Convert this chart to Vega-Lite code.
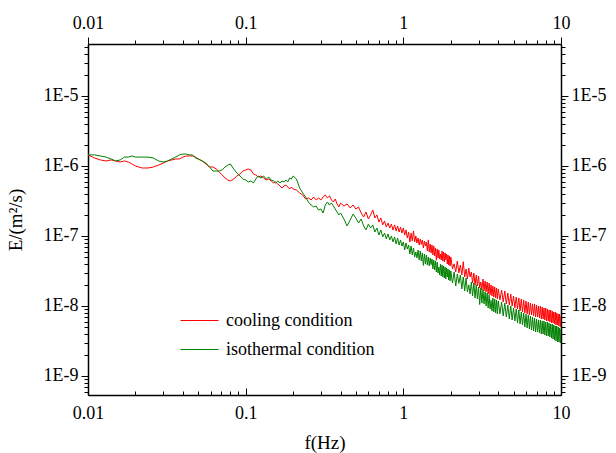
{
"$schema":"https://vega.github.io/schema/vega-lite/v6.json",
"width":473,"height":351,
"autosize":"none",
"padding":{"left":88,"top":44,"right":55,"bottom":58},
"background":"white",
"config":{"view":{"stroke":null},"font":"Liberation Serif",
 "axis":{"domainColor":"black","domainWidth":1.5,"tickColor":"black","tickWidth":1,"labelColor":"black","titleColor":"black","labelFont":"Liberation Serif","titleFont":"Liberation Serif","labelFontSize":18,"titleFontSize":19,"titleFontWeight":"normal","grid":false,"labelFlush":false,"labelOverlap":false}},
"data":{"values":[
{"f":0.010,"c":1.44e-6,"i":1.44e-6},
{"f":0.011,"c":1.30e-6,"i":1.44e-6},
{"f":0.012,"c":1.22e-6,"i":1.39e-6},
{"f":0.013,"c":1.18e-6,"i":1.34e-6},
{"f":0.014,"c":1.22e-6,"i":1.26e-6},
{"f":0.015,"c":1.18e-6,"i":1.18e-6},
{"f":0.016,"c":1.14e-6,"i":1.22e-6},
{"f":0.017,"c":1.18e-6,"i":1.34e-6},
{"f":0.018,"c":1.14e-6,"i":1.34e-6},
{"f":0.019,"c":1.07e-6,"i":1.39e-6},
{"f":0.020,"c":1.00e-6,"i":1.34e-6},
{"f":0.022,"c":9.36e-7,"i":1.34e-6},
{"f":0.024,"c":9.36e-7,"i":1.34e-6},
{"f":0.026,"c":9.68e-7,"i":1.30e-6},
{"f":0.028,"c":1.03e-6,"i":1.18e-6},
{"f":0.030,"c":1.10e-6,"i":1.14e-6},
{"f":0.032,"c":1.18e-6,"i":1.18e-6},
{"f":0.034,"c":1.22e-6,"i":1.26e-6},
{"f":0.036,"c":1.26e-6,"i":1.34e-6},
{"f":0.038,"c":1.26e-6,"i":1.44e-6},
{"f":0.040,"c":1.34e-6,"i":1.48e-6},
{"f":0.042,"c":1.39e-6,"i":1.48e-6},
{"f":0.044,"c":1.39e-6,"i":1.44e-6},
{"f":0.046,"c":1.39e-6,"i":1.44e-6},
{"f":0.048,"c":1.34e-6,"i":1.30e-6},
{"f":0.050,"c":1.26e-6,"i":1.26e-6},
{"f":0.053,"c":1.18e-6,"i":1.18e-6},
{"f":0.056,"c":1.07e-6,"i":1.10e-6},
{"f":0.059,"c":9.68e-7,"i":9.68e-7},
{"f":0.062,"c":9.68e-7,"i":8.48e-7},
{"f":0.065,"c":9.06e-7,"i":8.48e-7},
{"f":0.068,"c":8.21e-7,"i":8.48e-7},
{"f":0.071,"c":7.44e-7,"i":8.77e-7},
{"f":0.074,"c":6.74e-7,"i":9.68e-7},
{"f":0.077,"c":6.31e-7,"i":1.03e-6},
{"f":0.080,"c":6.11e-7,"i":1.07e-6},
{"f":0.084,"c":6.52e-7,"i":9.06e-7},
{"f":0.088,"c":7.20e-7,"i":7.94e-7},
{"f":0.092,"c":7.69e-7,"i":7.20e-7},
{"f":0.096,"c":8.48e-7,"i":6.52e-7},
{"f":0.100,"c":8.77e-7,"i":6.31e-7},
{"f":0.104,"c":9.06e-7,"i":5.91e-7},
{"f":0.108,"c":8.77e-7,"i":6.11e-7},
{"f":0.112,"c":7.69e-7,"i":5.72e-7},
{"f":0.116,"c":7.44e-7,"i":6.52e-7},
{"f":0.120,"c":6.96e-7,"i":7.20e-7},
{"f":0.125,"c":7.20e-7,"i":6.74e-7},
{"f":0.130,"c":6.74e-7,"i":7.20e-7},
{"f":0.135,"c":6.31e-7,"i":6.52e-7},
{"f":0.140,"c":6.52e-7,"i":6.96e-7},
{"f":0.145,"c":6.11e-7,"i":6.31e-7},
{"f":0.150,"c":5.72e-7,"i":6.11e-7},
{"f":0.155,"c":5.91e-7,"i":5.72e-7},
{"f":0.160,"c":5.53e-7,"i":6.11e-7},
{"f":0.165,"c":5.18e-7,"i":5.72e-7},
{"f":0.170,"c":4.85e-7,"i":6.11e-7},
{"f":0.175,"c":5.18e-7,"i":5.91e-7},
{"f":0.180,"c":5.35e-7,"i":6.31e-7},
{"f":0.185,"c":5.01e-7,"i":5.91e-7},
{"f":0.190,"c":4.69e-7,"i":6.74e-7},
{"f":0.195,"c":5.01e-7,"i":6.52e-7},
{"f":0.200,"c":4.69e-7,"i":7.20e-7},
{"f":0.21,"c":4.54e-7,"i":6.52e-7},
{"f":0.22,"c":4.12e-7,"i":4.85e-7},
{"f":0.23,"c":3.85e-7,"i":4.12e-7},
{"f":0.24,"c":3.38e-7,"i":3.61e-7},
{"f":0.25,"c":3.49e-7,"i":3.06e-7},
{"f":0.26,"c":3.27e-7,"i":2.77e-7},
{"f":0.27,"c":3.61e-7,"i":2.60e-7},
{"f":0.28,"c":3.27e-7,"i":2.68e-7},
{"f":0.29,"c":3.49e-7,"i":2.35e-7},
{"f":0.30,"c":3.27e-7,"i":2.43e-7},
{"f":0.31,"c":3.61e-7,"i":2.13e-7},
{"f":0.32,"c":3.85e-7,"i":2.77e-7},
{"f":0.33,"c":3.49e-7,"i":3.06e-7},
{"f":0.34,"c":3.73e-7,"i":2.77e-7},
{"f":0.35,"c":3.27e-7,"i":2.96e-7},
{"f":0.36,"c":3.06e-7,"i":2.68e-7},
{"f":0.37,"c":3.38e-7,"i":2.43e-7},
{"f":0.38,"c":2.87e-7,"i":2.20e-7},
{"f":0.39,"c":2.60e-7,"i":2.00e-7},
{"f":0.40,"c":2.96e-7,"i":2.13e-7},
{"f":0.42,"c":2.68e-7,"i":1.75e-7},
{"f":0.44,"c":2.87e-7,"i":1.39e-7},
{"f":0.46,"c":2.51e-7,"i":1.69e-7},
{"f":0.48,"c":2.77e-7,"i":2.06e-7},
{"f":0.50,"c":2.43e-7,"i":1.81e-7},
{"f":0.52,"c":2.60e-7,"i":1.53e-7},
{"f":0.54,"c":2.13e-7,"i":1.75e-7},
{"f":0.56,"c":1.87e-7,"i":1.39e-7},
{"f":0.58,"c":2.20e-7,"i":1.22e-7},
{"f":0.60,"c":1.75e-7,"i":1.48e-7},
{"f":0.62,"c":2.00e-7,"i":1.30e-7},
{"f":0.64,"c":2.35e-7,"i":1.44e-7},
{"f":0.66,"c":1.81e-7,"i":1.14e-7},
{"f":0.68,"c":2.00e-7,"i":1.30e-7},
{"f":0.70,"c":1.59e-7,"i":1.03e-7},
{"f":0.72,"c":1.81e-7,"i":1.22e-7},
{"f":0.74,"c":1.44e-7,"i":9.68e-8},
{"f":0.76,"c":1.64e-7,"i":1.10e-7},
{"f":0.78,"c":1.34e-7,"i":9.06e-8},
{"f":0.80,"c":1.53e-7,"i":1.07e-7},
{"f":0.82,"c":1.30e-7,"i":8.77e-8},
{"f":0.84,"c":1.48e-7,"i":1.00e-7},
{"f":0.86,"c":1.22e-7,"i":8.21e-8},
{"f":0.88,"c":1.44e-7,"i":9.68e-8},
{"f":0.90,"c":1.18e-7,"i":7.69e-8},
{"f":0.92,"c":1.39e-7,"i":9.36e-8},
{"f":0.94,"c":1.14e-7,"i":7.44e-8},
{"f":0.96,"c":1.34e-7,"i":8.77e-8},
{"f":0.98,"c":1.10e-7,"i":7.20e-8},
{"f":1.00,"c":1.30e-7,"i":8.21e-8},
{"f":1.02,"c":1.03e-7,"i":6.31e-8},
{"f":1.04,"c":1.22e-7,"i":7.94e-8},
{"f":1.06,"c":9.36e-8,"i":6.5e-8},
{"f":1.08,"c":1.14e-7,"i":7.44e-8},
{"f":1.10,"c":8.2e-8,"i":5.53e-8},
{"f":1.12,"c":1.10e-7,"i":7.20e-8},
{"f":1.14,"c":8.48e-8,"i":5.35e-8},
{"f":1.16,"c":1.18e-7,"i":6.74e-8},
{"f":1.18,"c":8.21e-8,"i":5.01e-8},
{"f":1.20,"c":1.00e-7,"i":5.9e-8},
{"f":1.22,"c":7.94e-8,"i":4.85e-8},
{"f":1.24,"c":9.36e-8,"i":6.31e-8},
{"f":1.26,"c":7.44e-8,"i":4.54e-8},
{"f":1.28,"c":9.06e-8,"i":6.11e-8},
{"f":1.30,"c":7.6e-8,"i":4.39e-8},
{"f":1.32,"c":8.77e-8,"i":5.72e-8},
{"f":1.34,"c":6.74e-8,"i":3.8e-8},
{"f":1.36,"c":8.48e-8,"i":5.53e-8},
{"f":1.38,"c":7.2e-8,"i":3.98e-8},
{"f":1.40,"c":8.21e-8,"i":5.35e-8},
{"f":1.42,"c":6.11e-8,"i":3.85e-8},
{"f":1.44,"c":8.8e-8,"i":5.01e-8},
{"f":1.46,"c":5.91e-8,"i":3.73e-8},
{"f":1.48,"c":7.69e-8,"i":4.85e-8},
{"f":1.50,"c":5.72e-8,"i":3.9e-8},
{"f":1.52,"c":7.44e-8,"i":4.69e-8},
{"f":1.54,"c":5.35e-8,"i":3.38e-8},
{"f":1.56,"c":7.20e-8,"i":4.54e-8},
{"f":1.58,"c":5.18e-8,"i":3.27e-8},
{"f":1.60,"c":6.74e-8,"i":4.39e-8},
{"f":1.62,"c":4.5e-8,"i":3.06e-8},
{"f":1.64,"c":6.52e-8,"i":4.25e-8},
{"f":1.66,"c":4.85e-8,"i":2.96e-8},
{"f":1.68,"c":6.31e-8,"i":3.6e-8},
{"f":1.70,"c":4.69e-8,"i":2.77e-8},
{"f":1.72,"c":5.5e-8,"i":3.98e-8},
{"f":1.74,"c":4.54e-8,"i":2.68e-8},
{"f":1.76,"c":6.11e-8,"i":3.85e-8},
{"f":1.78,"c":4.39e-8,"i":2.60e-8},
{"f":1.80,"c":5.91e-8,"i":3.73e-8},
{"f":1.82,"c":4.25e-8,"i":2.51e-8},
{"f":1.84,"c":5.72e-8,"i":3.61e-8},
{"f":1.86,"c":4.6e-8,"i":2.43e-8},
{"f":1.88,"c":5.53e-8,"i":3.49e-8},
{"f":1.90,"c":3.98e-8,"i":2.6e-8},
{"f":1.92,"c":5.35e-8,"i":3.38e-8},
{"f":1.94,"c":3.85e-8,"i":2.35e-8},
{"f":1.96,"c":5.18e-8,"i":3.27e-8},
{"f":1.98,"c":3.73e-8,"i":2.28e-8},
{"f":2.00,"c":5.01e-8,"i":3.16e-8},
{"f":2.05,"c":3.38e-8,"i":2.13e-8},
{"f":2.10,"c":4.0e-8,"i":3.06e-8},
{"f":2.15,"c":3.06e-8,"i":1.93e-8},
{"f":2.20,"c":4.39e-8,"i":2.87e-8},
{"f":2.25,"c":2.96e-8,"i":2.1e-8},
{"f":2.30,"c":3.85e-8,"i":2.77e-8},
{"f":2.35,"c":2.77e-8,"i":1.75e-8},
{"f":2.40,"c":4.3e-8,"i":2.60e-8},
{"f":2.45,"c":2.60e-8,"i":1.64e-8},
{"f":2.50,"c":3.38e-8,"i":2.51e-8},
{"f":2.55,"c":2.43e-8,"i":1.59e-8},
{"f":2.60,"c":3.49e-8,"i":2.0e-8},
{"f":2.65,"c":2.6e-8,"i":1.48e-8},
{"f":2.70,"c":3.06e-8,"i":2.20e-8},
{"f":2.75,"c":2.13e-8,"i":1.39e-8},
{"f":2.80,"c":2.96e-8,"i":2.13e-8},
{"f":2.85,"c":2.00e-8,"i":1.30e-8},
{"f":2.90,"c":2.77e-8,"i":2.00e-8},
{"f":2.95,"c":1.93e-8,"i":1.26e-8},
{"f":3.00,"c":2.68e-8,"i":1.87e-8},
{"f":3.05,"c":1.81e-8,"i":1.05e-8},
{"f":3.10,"c":2.2e-8,"i":1.81e-8},
{"f":3.15,"c":1.69e-8,"i":1.10e-8},
{"f":3.20,"c":2.43e-8,"i":1.69e-8},
{"f":3.25,"c":1.64e-8,"i":1.07e-8},
{"f":3.30,"c":2.28e-8,"i":1.59e-8},
{"f":3.35,"c":1.59e-8,"i":1.00e-8},
{"f":3.40,"c":2.20e-8,"i":1.53e-8},
{"f":3.45,"c":1.48e-8,"i":9.36e-9},
{"f":3.50,"c":2.13e-8,"i":1.44e-8},
{"f":3.55,"c":1.44e-8,"i":9.06e-9},
{"f":3.60,"c":2.00e-8,"i":1.2e-8},
{"f":3.65,"c":1.39e-8,"i":8.48e-9},
{"f":3.70,"c":1.93e-8,"i":1.30e-8},
{"f":3.75,"c":1.34e-8,"i":8.21e-9},
{"f":3.80,"c":1.87e-8,"i":1.26e-8},
{"f":3.85,"c":1.30e-8,"i":7.94e-9},
{"f":3.90,"c":1.81e-8,"i":1.22e-8},
{"f":3.95,"c":1.26e-8,"i":7.69e-9},
{"f":4.00,"c":1.75e-8,"i":1.18e-8},
{"f":4.1,"c":1.22e-8,"i":7.69e-9},
{"f":4.2,"c":1.69e-8,"i":1.14e-8},
{"f":4.3,"c":1.14e-8,"i":7.20e-9},
{"f":4.4,"c":1.64e-8,"i":1.10e-8},
{"f":4.5,"c":1.07e-8,"i":6.96e-9},
{"f":4.6,"c":1.53e-8,"i":1.03e-8},
{"f":4.7,"c":1.03e-8,"i":6.52e-9},
{"f":4.8,"c":1.48e-8,"i":1.00e-8},
{"f":4.9,"c":1.00e-8,"i":6.31e-9},
{"f":5.0,"c":1.39e-8,"i":9.36e-9},
{"f":5.1,"c":9.36e-9,"i":6.11e-9},
{"f":5.2,"c":1.34e-8,"i":9.06e-9},
{"f":5.3,"c":9.06e-9,"i":5.72e-9},
{"f":5.4,"c":1.30e-8,"i":8.77e-9},
{"f":5.5,"c":8.48e-9,"i":5.53e-9},
{"f":5.6,"c":1.26e-8,"i":8.21e-9},
{"f":5.7,"c":8.21e-9,"i":5.35e-9},
{"f":5.8,"c":1.22e-8,"i":7.94e-9},
{"f":5.9,"c":7.94e-9,"i":5.01e-9},
{"f":6.0,"c":1.18e-8,"i":7.69e-9},
{"f":6.1,"c":7.69e-9,"i":4.85e-9},
{"f":6.2,"c":1.14e-8,"i":7.44e-9},
{"f":6.3,"c":7.44e-9,"i":4.69e-9},
{"f":6.4,"c":1.10e-8,"i":7.20e-9},
{"f":6.5,"c":7.44e-9,"i":4.54e-9},
{"f":6.6,"c":1.07e-8,"i":6.96e-9},
{"f":6.7,"c":7.20e-9,"i":4.39e-9},
{"f":6.8,"c":1.07e-8,"i":6.74e-9},
{"f":6.9,"c":6.96e-9,"i":4.25e-9},
{"f":7.0,"c":1.03e-8,"i":6.52e-9},
{"f":7.1,"c":6.96e-9,"i":4.25e-9},
{"f":7.2,"c":1.00e-8,"i":6.31e-9},
{"f":7.3,"c":6.74e-9,"i":4.12e-9},
{"f":7.4,"c":1.00e-8,"i":6.31e-9},
{"f":7.5,"c":6.52e-9,"i":3.98e-9},
{"f":7.6,"c":9.68e-9,"i":6.11e-9},
{"f":7.7,"c":6.52e-9,"i":3.98e-9},
{"f":7.8,"c":9.36e-9,"i":6.11e-9},
{"f":7.9,"c":6.31e-9,"i":3.85e-9},
{"f":8.0,"c":9.36e-9,"i":5.91e-9},
{"f":8.1,"c":6.11e-9,"i":3.73e-9},
{"f":8.2,"c":9.06e-9,"i":5.91e-9},
{"f":8.3,"c":6.11e-9,"i":3.73e-9},
{"f":8.4,"c":8.77e-9,"i":5.72e-9},
{"f":8.5,"c":5.91e-9,"i":3.61e-9},
{"f":8.6,"c":8.77e-9,"i":5.53e-9},
{"f":8.7,"c":5.72e-9,"i":3.49e-9},
{"f":8.8,"c":8.48e-9,"i":5.53e-9},
{"f":8.9,"c":5.72e-9,"i":3.38e-9},
{"f":9.0,"c":8.21e-9,"i":5.35e-9},
{"f":9.1,"c":5.53e-9,"i":3.27e-9},
{"f":9.2,"c":8.21e-9,"i":5.18e-9},
{"f":9.3,"c":5.35e-9,"i":3.16e-9},
{"f":9.4,"c":7.94e-9,"i":5.18e-9},
{"f":9.5,"c":5.35e-9,"i":3.06e-9},
{"f":9.6,"c":7.69e-9,"i":5.01e-9},
{"f":9.7,"c":5.18e-9,"i":3.06e-9},
{"f":9.8,"c":7.69e-9,"i":4.85e-9},
{"f":9.9,"c":5.01e-9,"i":2.96e-9},
{"f":10.0,"c":7.20e-9,"i":4.69e-9}
]},
"transform":[{"fold":["c","i"],"as":["s","E"]}],
"layer":[
 {"mark":{"type":"line","strokeWidth":1,"clip":true},
  "encoding":{
   "x":{"field":"f","type":"quantitative","scale":{"type":"log","domain":[0.01,10],"nice":false},
        "axis":{"orient":"bottom","values":[0.01,0.1,1,10],"format":"~g","tickSize":-7,"labelPadding":16,"title":"f(Hz)","titlePadding":11}},
   "y":{"field":"E","type":"quantitative","scale":{"type":"log","domain":[5.35e-10,5.53e-5],"nice":false},
        "axis":{"orient":"left","values":[1e-9,1e-8,1e-7,1e-6,1e-5],"tickSize":7,"labelPadding":3,"labelExpr":"'1E' + round(log(datum.value)/LN10)","title":"E/(m²/s)","titlePadding":18}},
   "color":{"field":"s","type":"nominal","scale":{"domain":["c","i"],"range":["#ff0000","#008000"]},
        "legend":{"orient":"none","legendX":92,"legendY":257,"title":null,"symbolType":"stroke","symbolSize":1444,"symbolStrokeWidth":1,"labelFont":"Liberation Serif","labelFontSize":18,"labelColor":"black","labelLimit":400,"rowPadding":-30,"padding":0,"labelOffset":7,"labelExpr":"datum.label == 'c' ? 'cooling condition' : 'isothermal condition'"}}
  }},
 {"transform":[{"filter":"false"}],"mark":{"type":"point","opacity":0},
  "encoding":{
   "x":{"field":"f","type":"quantitative","axis":{"orient":"top","values":[0.01,0.1,1,10],"format":"~g","tickSize":7,"labelPadding":5,"title":null}},
   "y":{"field":"E","type":"quantitative","axis":{"orient":"right","values":[1e-9,1e-8,1e-7,1e-6,1e-5],"tickSize":7,"labelPadding":3,"labelExpr":"'1E' + round(log(datum.value)/LN10)","title":null}}
  }},
 {"transform":[{"filter":"false"}],"mark":{"type":"point","opacity":0},
  "encoding":{
   "x":{"field":"f","type":"quantitative","axis":{"orient":"bottom","values":[0.02,0.03,0.04,0.05,0.06,0.07,0.08,0.09,0.2,0.3,0.4,0.5,0.6,0.7,0.8,0.9,2,3,4,5,6,7,8,9],"tickSize":-4,"labels":false,"domain":false,"title":null}},
   "y":{"field":"E","type":"quantitative","axis":{"orient":"left","values":[6e-10,7e-10,8e-10,9e-10,2e-9,3e-9,4e-9,5e-9,6e-9,7e-9,8e-9,9e-9,2e-8,3e-8,4e-8,5e-8,6e-8,7e-8,8e-8,9e-8,2e-7,3e-7,4e-7,5e-7,6e-7,7e-7,8e-7,9e-7,2e-6,3e-6,4e-6,5e-6,6e-6,7e-6,8e-6,9e-6,2e-5,3e-5,4e-5,5e-5],"tickSize":4,"labels":false,"domain":false,"title":null}}
  }},
 {"transform":[{"filter":"false"}],"mark":{"type":"point","opacity":0},
  "encoding":{
   "x":{"field":"f","type":"quantitative","axis":{"orient":"top","values":[0.02,0.03,0.04,0.05,0.06,0.07,0.08,0.09,0.2,0.3,0.4,0.5,0.6,0.7,0.8,0.9,2,3,4,5,6,7,8,9],"tickSize":4,"labels":false,"domain":false,"title":null}},
   "y":{"field":"E","type":"quantitative","axis":{"orient":"right","values":[6e-10,7e-10,8e-10,9e-10,2e-9,3e-9,4e-9,5e-9,6e-9,7e-9,8e-9,9e-9,2e-8,3e-8,4e-8,5e-8,6e-8,7e-8,8e-8,9e-8,2e-7,3e-7,4e-7,5e-7,6e-7,7e-7,8e-7,9e-7,2e-6,3e-6,4e-6,5e-6,6e-6,7e-6,8e-6,9e-6,2e-5,3e-5,4e-5,5e-5],"tickSize":4,"labels":false,"domain":false,"title":null}}
  }}
],
"resolve":{"axis":{"x":"independent","y":"independent"}}
}
